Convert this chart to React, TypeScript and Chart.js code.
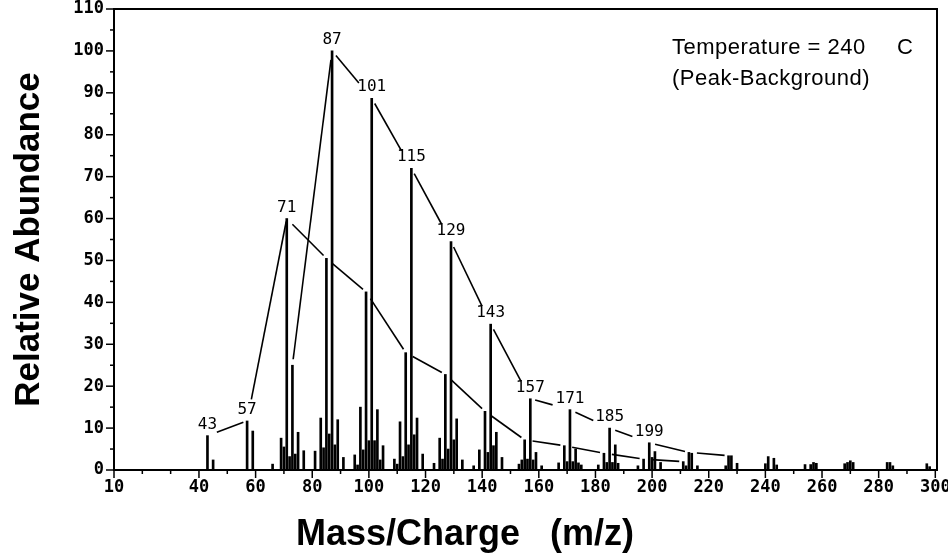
import React, { useEffect, useRef } from "react";
import { Chart, registerables } from "chart.js";

Chart.register(...registerables);

// ---- data (m/z and relative abundance) ----
const massCharge = [
  43, 45, 57, 59, 66, 69, 70, 71, 72, 73, 74, 75, 77,
  81, 83, 84, 85, 86, 87, 88, 89, 91,
  95, 96, 97, 98, 99, 100, 101, 102, 103, 104, 105,
  109, 110, 111, 112, 113, 114, 115, 116, 117, 119,
  123, 125, 126, 127, 128, 129, 130, 131, 133,
  137, 139, 141, 142, 143, 144, 145, 147,
  153, 154, 155, 156, 157, 158, 159, 161,
  167, 169, 170, 171, 172, 173, 174, 175,
  181, 183, 184, 185, 186, 187, 188,
  195, 197, 199, 200, 201, 203,
  211, 212, 213, 214, 216,
  226, 227, 228, 230,
  240, 241, 243, 244,
  254, 256, 257, 258,
  268, 269, 270, 271,
  283, 284, 285,
  297, 298,
];
const abundance = [
  8.2, 2.4, 11.7, 9.3, 1.4, 7.6, 5.5, 60, 3.2, 25, 3.8, 9, 4.6,
  4.5, 12.4, 5.3, 50.5, 8.6, 100, 6, 12, 3,
  3.6, 1.2, 15, 4.8, 42.5, 7, 88.7, 7, 14.4, 2.4, 5.8,
  2.6, 1.4, 11.5, 3.2, 28, 6, 72, 8.4, 12.4, 3.8,
  1.6, 7.6, 2.6, 22.8, 5, 54.5, 7.2, 12.2, 2.4,
  1, 4.8, 14, 4.2, 34.8, 5.8, 9, 3,
  1.4, 2.4, 7.2, 2.6, 17, 2.4, 4.2, 1,
  1.7, 5.8, 2, 14.4, 2, 5, 1.7, 1.2,
  1.2, 4, 1.8, 10, 1.8, 6, 1.6,
  1, 2.6, 6.5, 3, 4.4, 1.8,
  2, 1, 4.2, 4, 1,
  1, 3.4, 3.4, 1.6,
  1.5, 3.2, 2.8, 1.2,
  1.3, 1.3, 1.8, 1.6,
  1.5, 1.8, 2.2, 1.8,
  1.8, 1.8, 1,
  1.5, 0.8,
];

// homologous series drawn as connecting lines
const seriesLowMz = [43, 57, 71];
const seriesLowVal = [8.2, 11.7, 60];
const seriesMainMz = [73, 87, 101, 115, 129, 143, 157, 171, 185, 199, 213, 227];
const seriesMainVal = [25, 100, 88.7, 72, 54.5, 34.8, 17, 14.4, 10, 6.5, 4.2, 3.4];
const seriesAlkylMz = [71, 85, 99, 113, 127, 141, 155, 169, 183, 197, 211];
const seriesAlkylVal = [60, 50.5, 42.5, 28, 22.8, 14, 7.2, 5.8, 4, 2.6, 2];

// labelled peaks
const labelledMz = [43, 57, 71, 87, 101, 115, 129, 143, 157, 171, 185, 199];
const labelledVal = [8.2, 11.7, 60, 100, 88.7, 72, 54.5, 34.8, 17, 14.4, 10, 6.5];

// axis ticks
const xTickValues = [10, 20, 30, 40, 50, 60, 70, 80, 90, 100, 110, 120, 130, 140, 150, 160, 170, 180, 190, 200, 210, 220, 230, 240, 250, 260, 270, 280, 290, 300];
const xTickLabels = [10, 40, 60, 80, 100, 120, 140, 160, 180, 200, 220, 240, 260, 280, 300];
const yTickLabels = [0, 10, 20, 30, 40, 50, 60, 70, 80, 90, 100, 110];

const annotationLine1 = "Temperature = 240";
const annotationUnit = "C";
const annotationLine2 = "(Peak-Background)";
const xTitle = "Mass/Charge   (m/z)";
const yTitle = "Relative Abundance";

const MONO = "'DejaVu Sans Mono', monospace";
const SANS = "'Liberation Sans', Arial, sans-serif";

const decorPlugin = {
  id: "decor",
  afterDraw(chart: any) {
    const { ctx, chartArea } = chart;
    const xs = chart.scales.x;
    const ys = chart.scales.y;
    ctx.save();
    ctx.strokeStyle = "#000";
    ctx.fillStyle = "#000";

    // frame
    ctx.lineWidth = 2;
    ctx.strokeRect(chartArea.left, chartArea.top, chartArea.right - chartArea.left, chartArea.bottom - chartArea.top);

    // x tick marks
    ctx.lineWidth = 1.5;
    xTickValues.forEach((v) => {
      const px = xs.getPixelForValue(v);
      const major = xTickLabels.includes(v);
      ctx.beginPath();
      ctx.moveTo(px, chartArea.bottom);
      ctx.lineTo(px, chartArea.bottom + (major ? 8 : 4));
      ctx.stroke();
    });
    // y tick marks
    for (let v = 0; v <= 110; v += 5) {
      const py = ys.getPixelForValue(v);
      const major = yTickLabels.includes(v);
      ctx.beginPath();
      ctx.moveTo(chartArea.left, py);
      ctx.lineTo(chartArea.left - (major ? 8 : 4), py);
      ctx.stroke();
    }

    // series lines with small gaps near the peaks
    const drawSeries = (mz: number[], val: number[], g0: number[] | number, g1: number[] | number) => {
      ctx.lineWidth = 1.6;
      for (let i = 0; i < mz.length - 1; i++) {
        const a = Array.isArray(g0) ? g0[i] : g0;
        const b = Array.isArray(g1) ? g1[i] : g1;
        const x0 = xs.getPixelForValue(mz[i]);
        const y0 = ys.getPixelForValue(val[i]);
        const x1 = xs.getPixelForValue(mz[i + 1]);
        const y1 = ys.getPixelForValue(val[i + 1]);
        const dx = x1 - x0;
        const dy = y1 - y0;
        const len = Math.hypot(dx, dy);
        if (len < a + b + 4) continue;
        const ux = dx / len;
        const uy = dy / len;
        ctx.beginPath();
        ctx.moveTo(x0 + ux * a, y0 + uy * a);
        ctx.lineTo(x1 - ux * b, y1 - uy * b);
        ctx.stroke();
      }
    };
    drawSeries(seriesLowMz, seriesLowVal, [10, 22], [4, 3]);
    drawSeries(seriesMainMz, seriesMainVal, [6, 6, 6, 6, 6, 6, 5, 6, 6, 6, 8], [9, 20, 20, 20, 20, 20, 18, 18, 18, 4, 4]);
    drawSeries(seriesAlkylMz, seriesAlkylVal, 8, 4);

    // peak labels
    ctx.font = `16px ${MONO}`;
    ctx.textAlign = "center";
    ctx.textBaseline = "middle";
    labelledMz.forEach((m, i) => {
      const px = xs.getPixelForValue(m);
      const py = ys.getPixelForValue(labelledVal[i]);
      ctx.fillText(String(m), px, py - 11);
    });

    // annotation
    ctx.font = `22px ${SANS}`;
    try { (ctx as any).letterSpacing = "0.5px"; } catch (e) {}
    ctx.textBaseline = "alphabetic";
    ctx.textAlign = "left";
    ctx.fillText(annotationLine1, 672, 54);
    ctx.fillText(annotationUnit, 897, 54);
    ctx.fillText(annotationLine2, 672, 85);
    try { (ctx as any).letterSpacing = "0px"; } catch (e) {}

    // x title
    ctx.font = `bold 36px ${SANS}`;
    ctx.textAlign = "center";
    ctx.textBaseline = "middle";
    ctx.fillText(xTitle, 465, 535);

    ctx.restore();
  },
};

export default function App() {
  const ref = useRef<HTMLCanvasElement | null>(null);

  useEffect(() => {
    const canvas = ref.current;
    if (!canvas) return;
    const chart = new Chart(canvas, {
      type: "bar",
      data: {
        datasets: [
          {
            label: "abundance",
            data: massCharge.map((m, i) => ({ x: m, y: abundance[i] })),
            backgroundColor: "#000",
            borderWidth: 0,
            barThickness: 2,
            grouped: false,
          } as any,
        ],
      },
      options: {
        responsive: false,
        animation: false,
        events: [],
        layout: { padding: { left: 0, right: 11, top: 9, bottom: 0 } },
        plugins: { legend: { display: false }, tooltip: { enabled: false } },
        scales: {
          x: {
            type: "linear",
            min: 10,
            max: 300.6,
            offset: false,
            grid: { display: false, drawTicks: false },
            border: { display: false },
            afterBuildTicks: (scale: any) => {
              scale.ticks = xTickValues.map((v) => ({ value: v }));
            },
            afterFit: (scale: any) => {
              scale.height = 88;
              scale.paddingLeft = 0;
              scale.paddingRight = 0;
            },
            ticks: {
              autoSkip: false,
              maxRotation: 0,
              minRotation: 0,
              padding: 7,
              color: "#000",
              font: { family: MONO, size: 17, weight: "bold" },
              callback: (v: any) => (xTickLabels.includes(Number(v)) ? String(v) : ""),
            },
          },
          y: {
            type: "linear",
            min: 0,
            max: 110,
            grid: { display: false, drawTicks: false },
            border: { display: false },
            afterFit: (scale: any) => {
              scale.width = 114;
              scale.paddingTop = 0;
              scale.paddingBottom = 0;
            },
            title: {
              display: true,
              text: yTitle,
              color: "#000",
              font: { family: SANS, size: 35, weight: "bold" },
              padding: { top: 8, bottom: 0 },
            },
            ticks: {
              stepSize: 5,
              autoSkip: false,
              padding: 10,
              color: "#000",
              font: { family: MONO, size: 17, weight: "bold" },
              callback: (v: any) => (yTickLabels.includes(Number(v)) ? String(v) : ""),
            },
          },
        },
      } as any,
      plugins: [decorPlugin],
    });
    return () => chart.destroy();
  }, []);

  return (
    <div style={{ position: "fixed", left: 0, top: 0, width: 948, height: 558, background: "#fff" }}>
      <canvas ref={ref} width={948} height={558} style={{ width: 948, height: 558, display: "block" }} />
    </div>
  );
}
